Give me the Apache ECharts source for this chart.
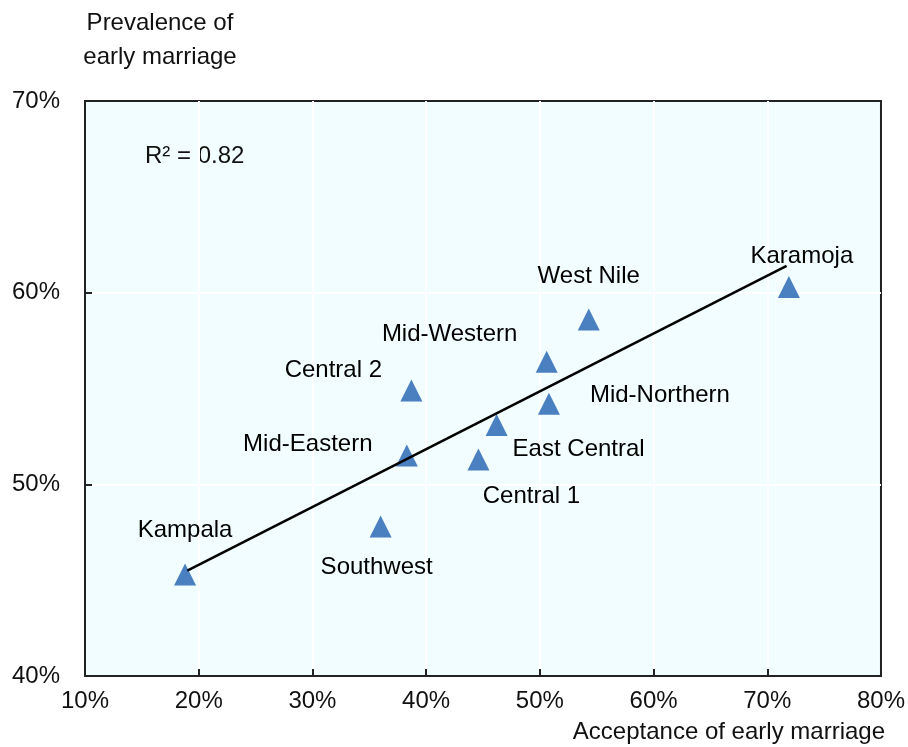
<!DOCTYPE html>
<html>
<head>
<meta charset="utf-8">
<script src="https://cdn.jsdelivr.net/npm/echarts@6/dist/echarts.min.js"></script>
<style>
  html, body { margin: 0; padding: 0; background: #fff; }
  #main { width: 908px; height: 747px; }
</style>
</head>
<body>
<div id="main"></div>
<script>
// regions and their values (%)
var regions = ['Kampala', 'Southwest', 'Mid-Eastern', 'Central 2', 'Central 1',
  'East Central', 'Mid-Western', 'Mid-Northern', 'West Nile', 'Karamoja'];
var acceptance = [18.8, 36.0, 38.3, 38.7, 44.6, 46.2, 50.6, 50.8, 54.3, 71.9];
var prevalence = [45.3, 47.8, 51.5, 54.9, 51.3, 53.1, 56.4, 54.2, 58.6, 60.3];

// fitted line end points
var trendX = [19.0, 71.7];
var trendY = [45.5, 61.4];

var xTicks = [10, 80, 10];   // min, max, step
var yTicks = [40, 70, 10];
var rSquared = 'R² = 0.82';

// where each region's label sits relative to its marker (px)
var labelOffset = {
  'Kampala': [0, -44],
  'Southwest': [-4, 41],
  'Mid-Eastern': [-99, -11],
  'Central 2': [-78, -20],
  'Central 1': [53, 37],
  'East Central': [82, 24],
  'Mid-Western': [-97, -27],
  'Mid-Northern': [111, -8],
  'West Nile': [0, -43],
  'Karamoja': [13, -31]
};

var FONT = 'Liberation Sans, Arial, sans-serif';
var chart = echarts.init(document.getElementById('main'));

var points = regions.map(function (r, i) {
  return {
    name: r,
    value: [acceptance[i], prevalence[i]],
    label: { offset: labelOffset[r] }
  };
});

var trend = trendX.map(function (x, i) { return [x, trendY[i]]; });

var option = {
  animation: false,
  backgroundColor: '#fff',
  grid: {
    left: 85, right: 26, top: 101, bottom: 71,
    show: true,
    backgroundColor: '#f1fdfe',
    borderColor: '#222',
    borderWidth: 2
  },
  xAxis: {
    type: 'value',
    min: xTicks[0], max: xTicks[1], interval: xTicks[2],
    axisLine: { show: true, lineStyle: { color: '#222', width: 2 } },
    axisTick: { show: true, inside: true, length: 7, lineStyle: { color: '#222', width: 2 } },
    axisLabel: { formatter: '{value}%', color: '#111', fontSize: 24, fontFamily: FONT, margin: 13 },
    splitLine: { show: true, showMinLine: false, showMaxLine: false, lineStyle: { color: '#ffffff', width: 2 } }
  },
  yAxis: {
    type: 'value',
    min: yTicks[0], max: yTicks[1], interval: yTicks[2],
    axisLine: { show: true, lineStyle: { color: '#222', width: 2 } },
    axisTick: { show: true, inside: true, length: 7, lineStyle: { color: '#222', width: 2 } },
    axisLabel: { formatter: '{value}%', color: '#111', fontSize: 24, fontFamily: FONT, margin: 25 },
    splitLine: { show: true, showMinLine: false, showMaxLine: false, lineStyle: { color: '#ffffff', width: 2 } }
  },
  graphic: [
    {
      type: 'text', left: 160 - 80, top: 6,
      style: {
        text: 'Prevalence of\nearly marriage', fill: '#111',
        font: '24px ' + FONT, textAlign: 'center', width: 160, lineHeight: 34
      }
    },
    {
      type: 'text', right: 23, top: 720,
      style: { text: 'Acceptance of early marriage', fill: '#111', font: '24px ' + FONT }
    },
    {
      type: 'text', left: 145, top: 144,
      style: { text: rSquared, fill: '#111', font: '24px ' + FONT }
    }
  ],
  series: [
    {
      type: 'scatter',
      symbol: 'triangle',
      symbolSize: [22, 22],
      itemStyle: { color: '#4a7fc0', opacity: 1 },
      label: {
        show: true,
        position: 'inside',
        formatter: '{b}',
        color: '#000',
        fontSize: 24,
        fontFamily: FONT,
        align: 'center',
        verticalAlign: 'middle'
      },
      data: points,
      z: 2
    },
    {
      type: 'line',
      data: trend,
      symbol: 'none',
      lineStyle: { color: '#000', width: 2.5 },
      z: 3,
      silent: true
    }
  ]
};

chart.setOption(option);
</script>
</body>
</html>
